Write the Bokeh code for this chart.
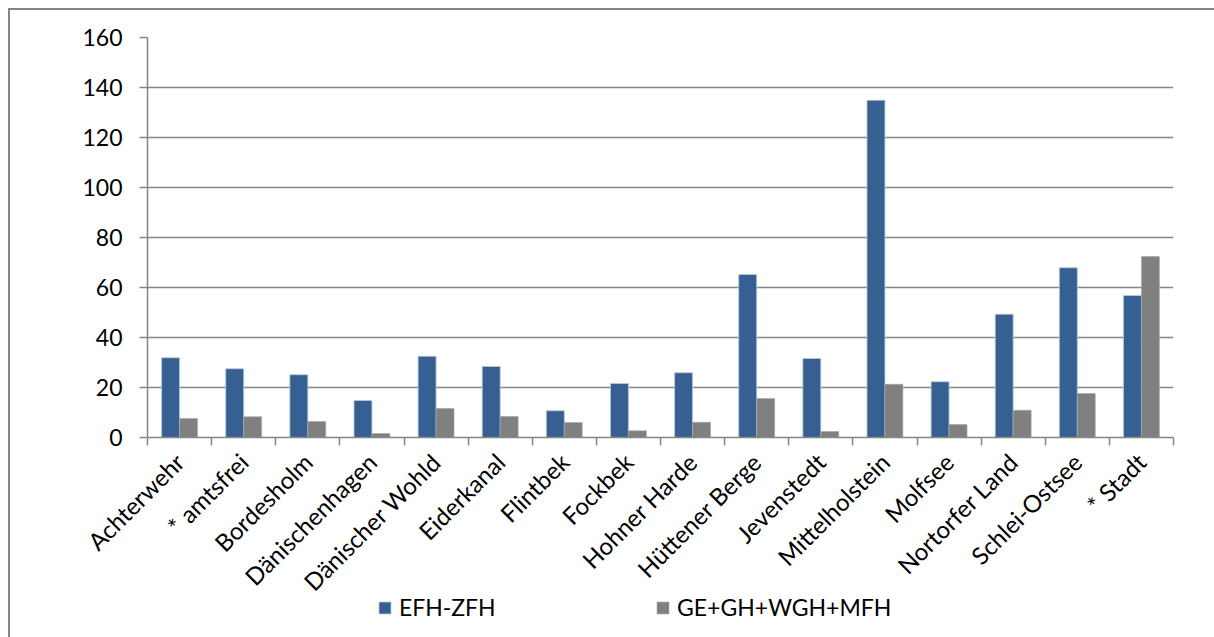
from bokeh.plotting import figure
from bokeh.layouts import column
from bokeh.models import (FactorRange, Range1d, LinearAxis, FixedTicker,
                          CustomJSTickFormatter, Legend, LegendItem, ColumnDataSource)
from bokeh.transform import dodge
from bokeh.embed import file_html
from bokeh.resources import INLINE
import math

# Ämter / Gemeinden
categories = ["Achterwehr", "* amtsfrei", "Bordesholm", "Dänischenhagen",
              "Dänischer Wohld", "Eiderkanal", "Flintbek", "Fockbek",
              "Hohner Harde", "Hüttener Berge", "Jevenstedt", "Mittelholstein",
              "Molfsee", "Nortorfer Land", "Schlei-Ostsee", "* Stadt"]

efh_zfh = [31.9, 27.5, 25.1, 14.8, 32.5, 28.4, 10.7, 21.6,
           25.9, 65.2, 31.6, 134.9, 22.3, 49.3, 67.9, 56.8]

ge_mfh = [7.6, 8.3, 6.4, 1.6, 11.6, 8.4, 6.0, 2.7,
          6.1, 15.6, 2.4, 21.3, 5.2, 10.9, 17.6, 72.4]

series_names = ["EFH-ZFH", "GE+GH+WGH+MFH"]
y_ticks = [0, 20, 40, 60, 80, 100, 120, 140, 160]

BLUE = "#366092"
GREY = "#808080"
AXIS = "#868686"
FONT = "Lato"
FS = "23px"
W = 1204

source = ColumnDataSource(dict(cat=categories, a=efh_zfh, b=ge_mfh))

p = figure(x_range=FactorRange(*categories), y_range=Range1d(0, 160),
           width=W, height=605, output_backend="svg", toolbar_location=None,
           x_axis_location=None, min_border_left=137, min_border_right=41,
           min_border_top=27, min_border_bottom=178)
p.outline_line_color = None
p.background_fill_color = "white"
p.border_fill_color = "white"

bar_w = 0.28
bar_style = [dict(fill_color=BLUE, line_color="#b9c9de", line_width=0.8),
             dict(fill_color=GREY, line_color="#a6a6a6", line_width=0.6)]
r1 = p.vbar(x=dodge("cat", -bar_w / 2, range=p.x_range), top="a", width=bar_w,
            source=source, **bar_style[0])
r2 = p.vbar(x=dodge("cat", bar_w / 2, range=p.x_range), top="b", width=bar_w,
            source=source, **bar_style[1])

# y axis
p.yaxis.ticker = FixedTicker(ticks=y_ticks)
p.yaxis.axis_line_color = AXIS
p.yaxis.axis_line_width = 1.5
p.yaxis.major_tick_line_color = AXIS
p.yaxis.major_tick_line_width = 1.5
p.yaxis.major_tick_out = 8
p.yaxis.major_tick_in = 0
p.yaxis.minor_tick_line_color = None
p.yaxis.major_label_standoff = 17
p.yaxis.major_label_text_font = FONT
p.yaxis.major_label_text_font_size = FS
p.yaxis.major_label_text_color = "black"

p.ygrid.grid_line_color = AXIS
p.ygrid.grid_line_width = 1.5
p.xgrid.grid_line_color = None

# category axis on the factor range's synthetic coordinates:
# tick marks between groups, names at group centres
n = len(categories)
xaxis = LinearAxis(ticker=FixedTicker(ticks=[i + 0.5 for i in range(n)],
                                      minor_ticks=list(range(n + 1))),
                   formatter=CustomJSTickFormatter(args=dict(names=categories),
                                                   code="return names[Math.floor(tick)] || '';"))
xaxis.axis_line_color = AXIS
xaxis.axis_line_width = 1.5
xaxis.major_tick_line_color = None
xaxis.major_tick_out = 0
xaxis.major_tick_in = 0
xaxis.minor_tick_line_color = AXIS
xaxis.minor_tick_line_width = 1.5
xaxis.minor_tick_out = 8
xaxis.minor_tick_in = 0
xaxis.major_label_orientation = math.pi / 4
xaxis.major_label_standoff = 12
xaxis.major_label_text_font = FONT
xaxis.major_label_text_font_size = "24px"
xaxis.major_label_text_color = "black"
p.add_layout(xaxis, "below")

# transparent legend strip, pulled up under the category labels
lg = figure(width=W, height=47, output_backend="svg", toolbar_location=None,
            x_range=FactorRange(*categories), y_range=Range1d(0, 1),
            x_axis_location=None, y_axis_location=None,
            min_border=0, outline_line_color=None)
lg.margin = (-25, 0, 0, 0)
lg.grid.visible = False
lg.background_fill_alpha = 0
lg.border_fill_alpha = 0
k1 = lg.vbar(x="cat", top="a", width=bar_w, source=source, visible=False, **bar_style[0])
k2 = lg.vbar(x="cat", top="b", width=bar_w, source=source, visible=False, **bar_style[1])

for renderer, name, loc in [(k1, series_names[0], (230, 16)),
                            (k2, series_names[1], (508, 16))]:
    leg = Legend(items=[LegendItem(label=name, renderers=[renderer])],
                 location=loc, orientation="horizontal",
                 glyph_width=15, glyph_height=15, label_standoff=7,
                 padding=0, margin=0, spacing=0,
                 border_line_color=None, background_fill_alpha=0,
                 inactive_fill_alpha=0,
                 label_text_font=FONT, label_text_font_size=FS,
                 label_text_color="black")
    lg.add_layout(leg, "center")

page = column(p, lg, spacing=0)
page.margin = (8, 0, 0, 8)
page.styles = {"border-left": "2px solid #868686", "border-top": "2px solid #868686"}

open("out.html", "w").write(file_html(page, INLINE))
